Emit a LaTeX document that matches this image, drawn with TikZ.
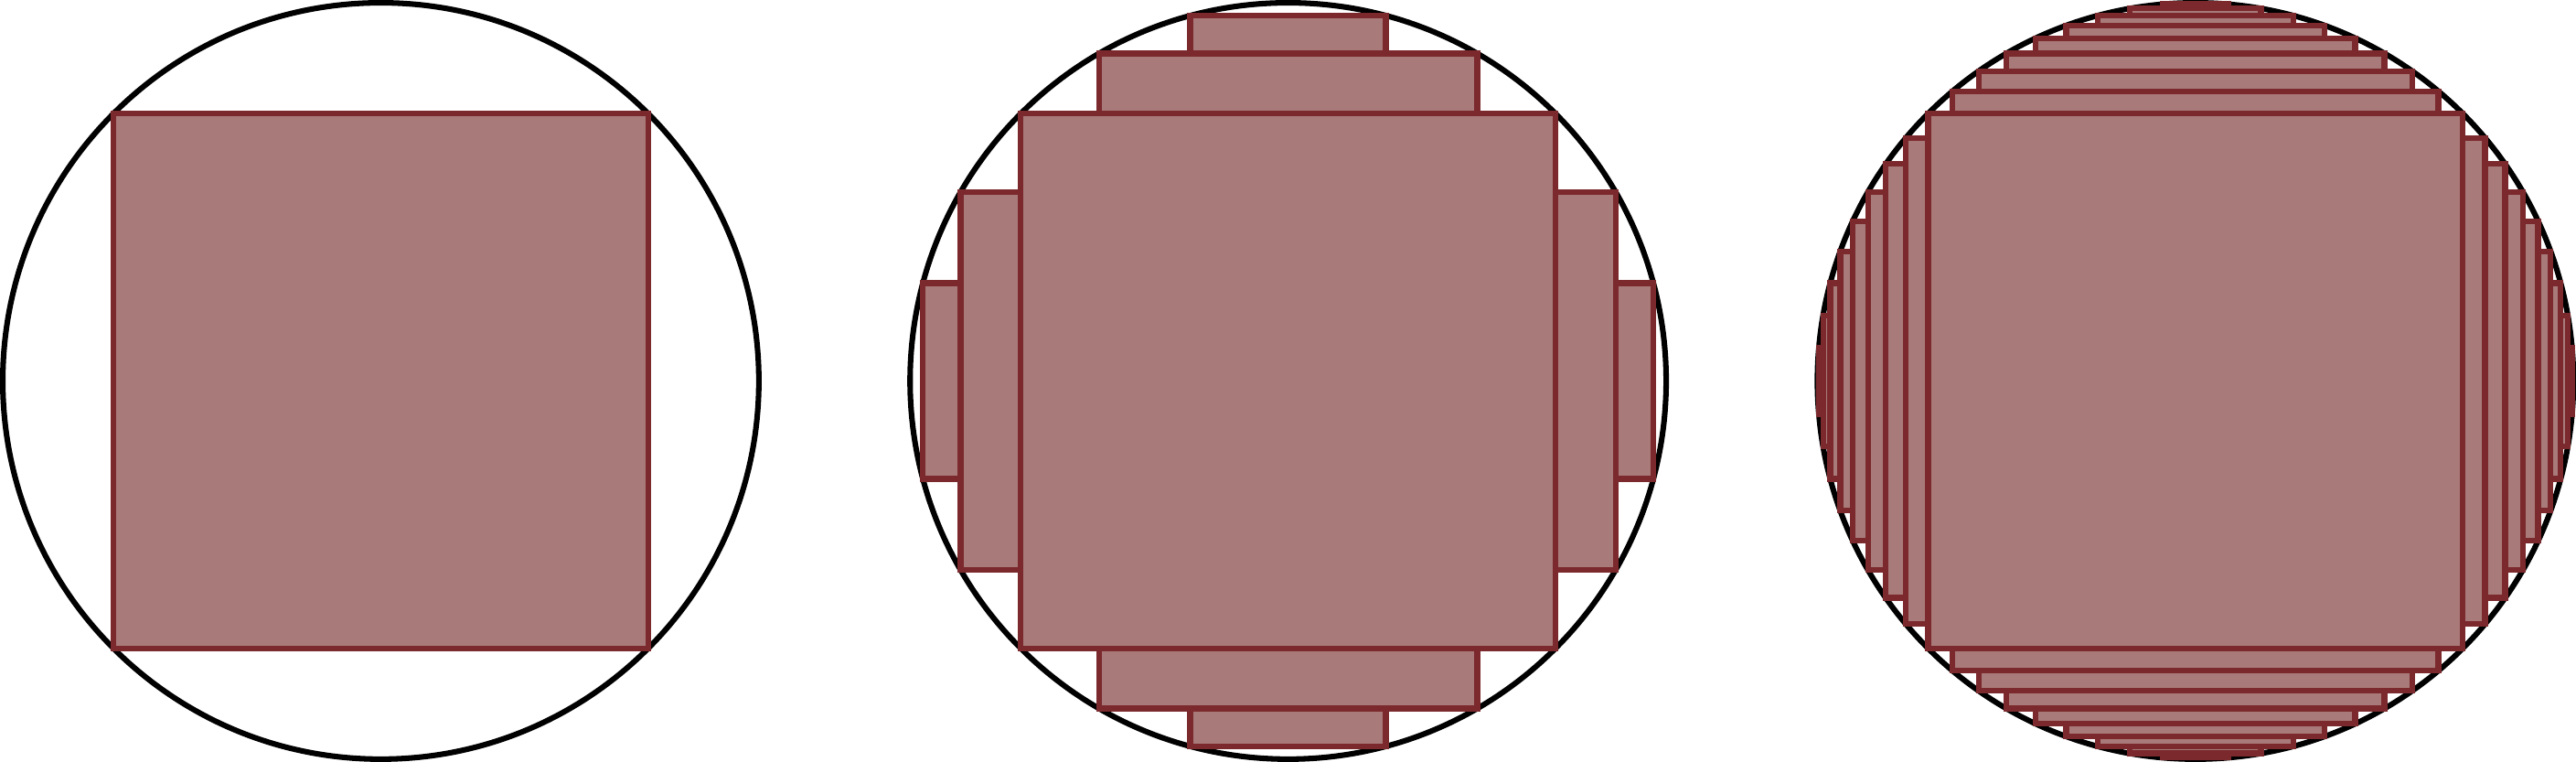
\documentclass[tikz,border=0pt]{standalone}
\usepackage{xcolor}
\usepackage{tikz}
\definecolor{brick}{RGB}{123,41,45}
\definecolor{brickfill}{RGB}{168,123,122}

\begin{document}
\begin{tikzpicture}[
  rim/.style={draw=black, line width=1.25pt},
  strip/.style={draw=brick, fill=brickfill, line width=1.3pt}]
  \useasboundingbox (-3.022,-3.022) rectangle (17.42,3.022);
  \def\R{3}
  \pgfmathsetmacro\sq{\R*cos(45)}
  \draw[rim] (0,0) circle (\R);
  \draw[strip] (-\sq,-\sq) rectangle (\sq,\sq);
  \foreach \cx/\st/\last in {7.2/15/60, 14.4/5/80} {
    \draw[rim] (\cx,0) circle (\R);
    \draw[strip] ({\cx-\sq},-\sq) rectangle ({\cx+\sq},\sq);
    \pgfmathtruncatemacro\nxt{45+\st}
    \foreach \t in {45,\nxt,...,\last} {
      \pgfmathsetmacro\ya{\R*sin(\t)}
      \pgfmathsetmacro\yb{\R*sin(\t+\st)}
      \pgfmathsetmacro\hw{\R*cos(\t+\st)}
      \draw[strip] ({\cx-\hw},\ya) rectangle ({\cx+\hw},\yb);
      \draw[strip] ({\cx-\hw},-\ya) rectangle ({\cx+\hw},-\yb);
      \draw[strip] ({\cx+\ya},-\hw) rectangle ({\cx+\yb},\hw);
      \draw[strip] ({\cx-\ya},-\hw) rectangle ({\cx-\yb},\hw);
    }
  }
\end{tikzpicture}
\end{document}
